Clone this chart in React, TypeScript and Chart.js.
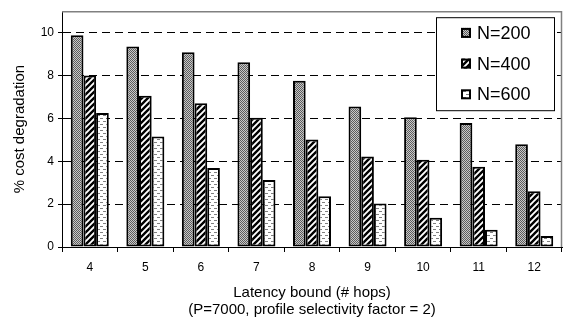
import { useEffect, useRef } from 'react';
import { Chart, registerables } from 'chart.js';

Chart.register(...registerables);

const categories = ['4', '5', '6', '7', '8', '9', '10', '11', '12'];
const seriesLabels = ['N=200', 'N=400', 'N=600'];
const n200 = [9.88, 9.35, 9.08, 8.62, 7.76, 6.56, 6.05, 5.78, 4.79];
const n400 = [8.0, 7.05, 6.71, 6.03, 5.01, 4.22, 4.07, 3.74, 2.6];
const n600 = [6.25, 5.15, 3.69, 3.12, 2.37, 2.03, 1.36, 0.8, 0.51];
const yMax = 11;
const yStep = 2;
const xTitle = ['Latency bound (# hops)', '(P=7000, profile selectivity factor = 2)'];
const yTitle = '% cost degradation';

const FONT = "'Liberation Sans', Arial, Helvetica, sans-serif";

function makePattern(kind: number): CanvasPattern | string {
  const c = document.createElement('canvas');
  const ctx = c.getContext('2d');
  if (!ctx) return '#999';
  if (kind === 0) {
    c.width = 2; c.height = 2;
    ctx.fillStyle = '#c8c8c8';
    ctx.fillRect(0, 0, 2, 2);
    ctx.fillStyle = '#5c5c5c';
    ctx.fillRect(0, 0, 1, 1);
    ctx.fillRect(1, 1, 1, 1);
  } else if (kind === 1) {
    c.width = 6; c.height = 6;
    ctx.fillStyle = '#ffffff';
    ctx.fillRect(0, 0, 6, 6);
    ctx.strokeStyle = '#000000';
    ctx.lineWidth = 2.4;
    ctx.beginPath();
    for (const k of [-6, 0, 6, 12]) {
      ctx.moveTo(k - 6, 6 + 6);
      ctx.lineTo(k + 12, -12 + 6);
    }
    ctx.stroke();
  } else {
    c.width = 6; c.height = 6;
    ctx.fillStyle = '#ffffff';
    ctx.fillRect(0, 0, 6, 6);
    ctx.fillStyle = '#808080';
    ctx.fillRect(1, 1, 3, 1);
    ctx.fillRect(4, 4, 2, 1);
    ctx.fillRect(0, 4, 1, 1);
  }
  const p = ctx.createPattern(c, 'repeat');
  return p || '#999';
}

export default function App() {
  const ref = useRef<HTMLCanvasElement | null>(null);

  useEffect(() => {
    document.body.style.margin = '0';
    const canvas = ref.current;
    if (!canvas) return;
    const patterns = [makePattern(0), makePattern(1), makePattern(2)];
    const values = [n200, n400, n600];

    const framePlugin = {
      id: 'frameAndLegend',
      afterDraw(chart: any) {
        const { ctx, chartArea } = chart;
        ctx.save();
        // top and right frame (gray)
        ctx.strokeStyle = '#808080';
        ctx.lineWidth = 1.5;
        ctx.beginPath();
        ctx.moveTo(chartArea.left, chartArea.top + 0.5);
        ctx.lineTo(chartArea.right - 0.5, chartArea.top + 0.5);
        ctx.lineTo(chartArea.right - 0.5, chartArea.bottom);
        ctx.stroke();

        // legend box
        const bx = chartArea.right - 126;
        const by = chartArea.top + 6;
        const bw = 118;
        const bh = 93;
        ctx.fillStyle = '#ffffff';
        ctx.fillRect(bx, by, bw, bh);
        ctx.strokeStyle = '#000000';
        ctx.lineWidth = 1;
        ctx.strokeRect(bx + 0.5, by + 0.5, bw, bh);
        const ds = chart.data.datasets;
        ctx.font = `18px ${FONT}`;
        ctx.textBaseline = 'middle';
        ctx.textAlign = 'left';
        for (let i = 0; i < ds.length; i++) {
          const cy = by + 15.7 + i * 30.7;
          const sx = bx + 25;
          ctx.fillStyle = ds[i].backgroundColor;
          ctx.fillRect(sx, cy - 5, 10, 10);
          ctx.strokeStyle = '#000';
          ctx.lineWidth = 2;
          ctx.strokeRect(sx + 1, cy - 4, 8, 8);
          ctx.fillStyle = '#000';
          ctx.fillText(ds[i].label, bx + 41, cy + 1);
        }
        ctx.restore();
      },
    };

    const chart = new Chart(canvas, {
      type: 'bar',
      data: {
        labels: categories,
        datasets: seriesLabels.map((label, i) => ({
          label,
          data: values[i],
          backgroundColor: patterns[i] as any,
          borderColor: '#000000',
          borderWidth: 2,
          borderSkipped: false,
          barPercentage: 1,
          categoryPercentage: 0.684,
        })),
      },
      options: {
        responsive: false,
        animation: false,
        devicePixelRatio: 1,
        layout: { padding: { left: 0, top: 11, right: 1, bottom: 0 } },
        plugins: {
          legend: { display: false },
          tooltip: { enabled: false },
        },
        scales: {
          x: {
            type: 'category',
            offset: true,
            grid: {
              offset: true,
              drawOnChartArea: false,
              drawTicks: true,
              tickLength: 5,
              color: '#000000',
            },
            border: { color: '#000000', width: 1 },
            ticks: {
              color: '#000000',
              font: { family: FONT, size: 12 },
              padding: 8,
              maxRotation: 0,
            },
            title: {
              display: true,
              text: xTitle,
              color: '#000000',
              font: { family: FONT, size: 15, lineHeight: 1.12 },
              padding: { top: 0, bottom: 4 },
            },
            afterFit: (s: any) => { s.height = 75; },
          },
          y: {
            min: 0,
            max: yMax,
            ticks: {
              stepSize: yStep,
              includeBounds: false,
              color: '#000000',
              font: { family: FONT, size: 12 },
              padding: 4,
            },
            grid: {
              color: '#000000',
              lineWidth: 1,
              tickLength: 4,
              drawTicks: true,
            },
            border: { color: '#000000', width: 1, dash: [8, 5] },
            title: {
              display: true,
              text: yTitle,
              color: '#000000',
              font: { family: FONT, size: 15, lineHeight: 1.12 },
              padding: { top: 11, bottom: 0 },
            },
            afterFit: (s: any) => { s.width = 62; },
          },
        },
      },
      plugins: [framePlugin],
    });

    return () => chart.destroy();
  }, []);

  return (
    <div style={{ width: 563, height: 322 }}>
      <canvas ref={ref} width={563} height={322} style={{ display: 'block' }} />
    </div>
  );
}
